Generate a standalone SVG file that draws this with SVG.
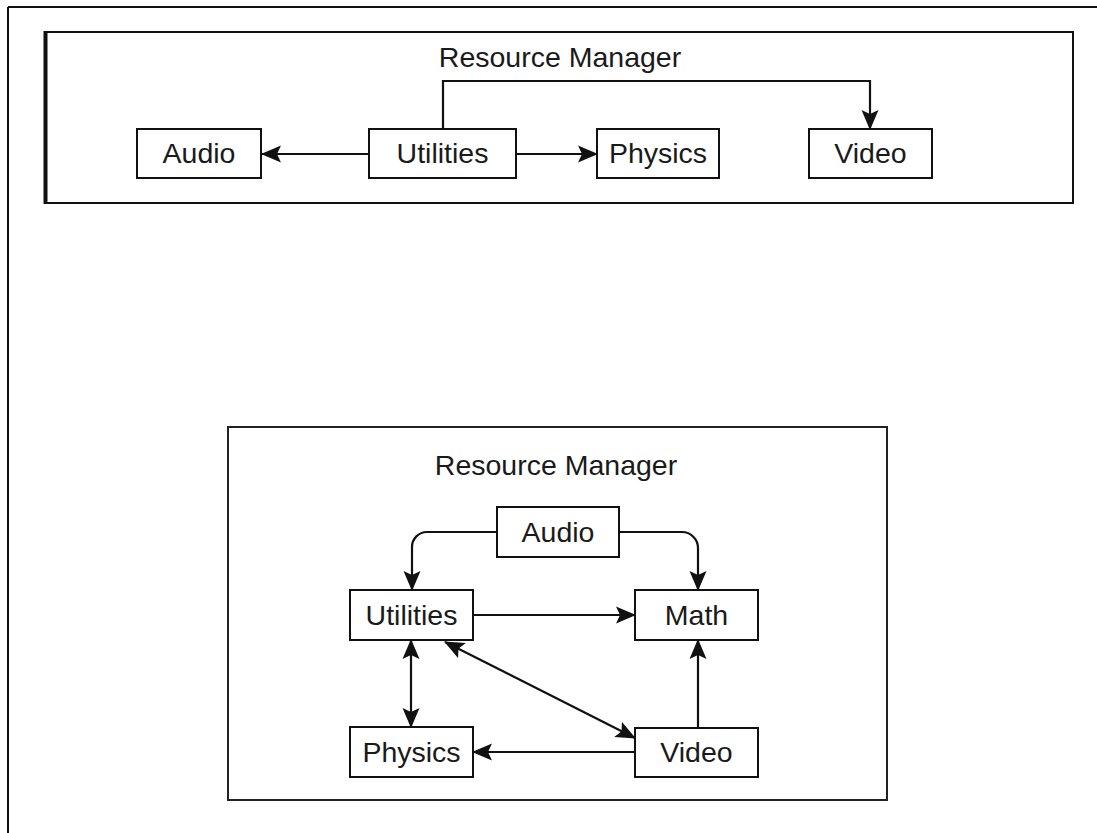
<svg xmlns="http://www.w3.org/2000/svg" width="1097" height="833" viewBox="0 0 1097 833">
  <style>
    .box { fill: #fff; stroke: #111; stroke-width: 2; }
    .frame { fill: none; stroke: #111; stroke-width: 2; }
    .edge { fill: none; stroke: #111; stroke-width: 2.2; }
    .lbl { font-family: "Liberation Sans", Arial, sans-serif; font-size: 28.5px; fill: #1a1a1a; text-anchor: middle; }
  </style>
  <defs>
    <marker id="arrow" markerUnits="userSpaceOnUse" markerWidth="20" markerHeight="18" refX="19" refY="9" orient="auto-start-reverse" viewBox="0 0 20 18">
      <path d="M0,0.5 L20,9 L0,17.5 L4,9 Z" fill="#111"/>
    </marker>
  </defs>
  <rect width="1097" height="833" fill="#fff"/>

  <!-- page frame: top and left rules -->
  <path class="frame" d="M8,7 H1097 M8,7 V833"/>

  <!-- upper layout -->
  <g id="rm-top">
    <rect class="frame" x="46" y="32" width="1027" height="171"/>
    <line x1="45.5" y1="31" x2="45.5" y2="204" stroke="#111" stroke-width="4"/>
    <text class="lbl" x="560" y="67">Resource Manager</text>
  </g>
  <g id="top-audio">
    <rect class="box" x="137" y="129" width="124" height="49"/>
    <text class="lbl" x="199" y="163">Audio</text>
  </g>
  <g id="top-utilities">
    <rect class="box" x="369" y="129" width="147" height="49"/>
    <text class="lbl" x="442.5" y="163">Utilities</text>
  </g>
  <g id="top-physics">
    <rect class="box" x="597" y="129" width="122" height="49"/>
    <text class="lbl" x="658" y="163">Physics</text>
  </g>
  <g id="top-video">
    <rect class="box" x="809" y="129" width="123" height="49"/>
    <text class="lbl" x="870.5" y="163">Video</text>
  </g>

  <!-- lower layout -->
  <g id="rm-bottom">
    <rect x="228" y="427" width="659" height="373" fill="none" stroke="#222" stroke-width="2"/>
    <text class="lbl" x="556" y="475">Resource Manager</text>
  </g>
  <g id="bot-audio">
    <rect class="box" x="497" y="507" width="122" height="50"/>
    <text class="lbl" x="558" y="542">Audio</text>
  </g>
  <g id="bot-utilities">
    <rect class="box" x="350" y="590" width="123" height="50"/>
    <text class="lbl" x="411.5" y="625">Utilities</text>
  </g>
  <g id="bot-math">
    <rect class="box" x="635" y="590" width="123" height="50"/>
    <text class="lbl" x="696.5" y="625">Math</text>
  </g>
  <g id="bot-physics">
    <rect class="box" x="350" y="727" width="123" height="50"/>
    <text class="lbl" x="411.5" y="762">Physics</text>
  </g>
  <g id="bot-video">
    <rect class="box" x="635" y="728" width="123" height="49"/>
    <text class="lbl" x="696.5" y="762">Video</text>
  </g>

  <g id="connectors">
    <!-- upper -->
    <path class="edge" d="M369,154 H262" marker-end="url(#arrow)"/>
    <path class="edge" d="M516,154 H597" marker-end="url(#arrow)"/>
    <path class="edge" d="M443,129 V81 H870 V129" marker-end="url(#arrow)"/>
    <!-- lower -->
    <path class="edge" d="M497,532 H427 A15,15 0 0 0 412,547 V590" marker-end="url(#arrow)"/>
    <path class="edge" d="M619,532 H682 A16,16 0 0 1 698,548 V590" marker-end="url(#arrow)"/>
    <path class="edge" d="M473,615 H635" marker-end="url(#arrow)"/>
    <path class="edge" d="M698,728 V640" marker-end="url(#arrow)"/>
    <path class="edge" d="M635,752 H473" marker-end="url(#arrow)"/>
    <path class="edge" d="M411,640 V727" marker-start="url(#arrow)" marker-end="url(#arrow)"/>
    <path class="edge" d="M445,642 L635,738" marker-start="url(#arrow)" marker-end="url(#arrow)"/>
  </g>
</svg>
